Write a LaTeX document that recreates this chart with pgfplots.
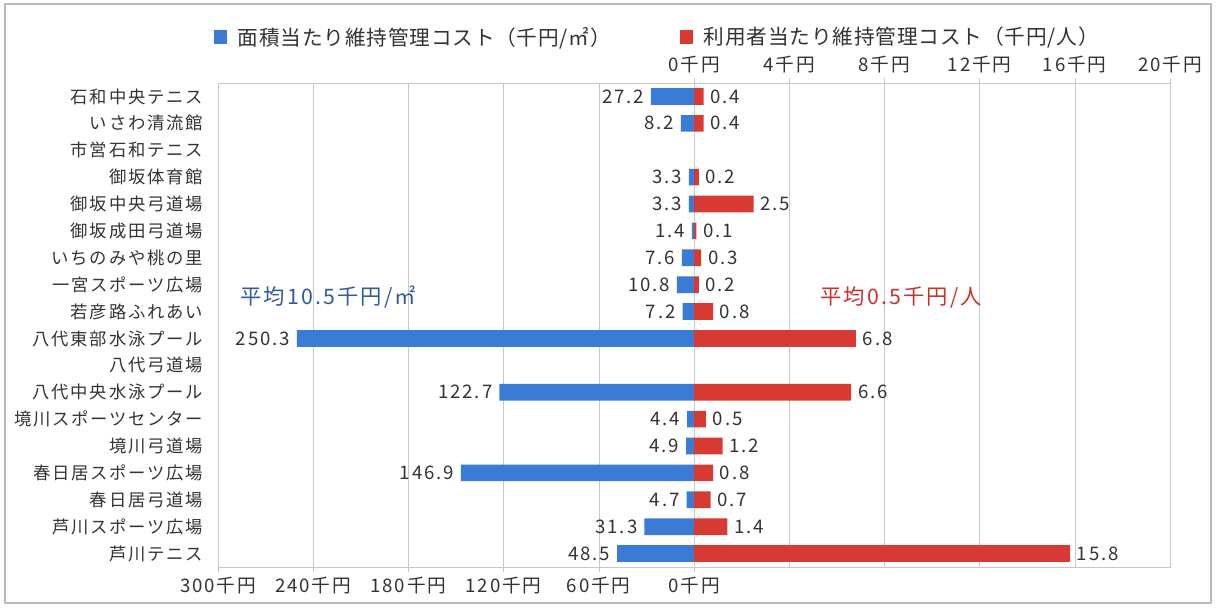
\documentclass[border=0pt]{standalone}
\usepackage{pgfplots}
\pgfplotsset{compat=1.18}
\usepackage{fontspec}
\setmainfont[LetterSpace=10]{Noto Sans CJK JP}
\newfontfamily\numfont[LetterSpace=10]{Noto Sans CJK JP}
\newfontfamily\legfont[LetterSpace=4]{Noto Sans CJK JP}
\definecolor{cblue}{HTML}{3A7BD5}
\definecolor{cred}{HTML}{D63A33}
\definecolor{txt}{HTML}{333333}
\definecolor{gridc}{HTML}{C8C8C8}
\definecolor{annblue}{HTML}{2E5B9A}
\definecolor{annred}{HTML}{C8332E}

\pgfplotsset{
  base/.style={
    scale only axis, width=714pt, height=363pt,
    at={(163.5pt,30pt)}, anchor=south west,
    ymin=-0.5, ymax=17.5, y dir=reverse,
    xbar, bar width=12.5pt,
    axis line style={gridc},
    xmajorgrids, grid style={gridc},
    tick style={gridc}, tick align=outside, major tick length=4pt,
    xticklabel style={font=\numfont\fontsize{14}{16}\selectfont, text=txt},
    /pgf/number format/assume math mode=true,
    clip=false,
  },
}

\begin{document}
\begin{tikzpicture}[x=0.75pt,y=0.75pt]
\path[use as bounding box] (0,0) rectangle (1216,607);
\draw[gray!55, line width=1.2pt] (5,4) rectangle (1211,603);

% blue axis (area cost)
\begin{axis}[base,
  x dir=reverse, xmin=-300, xmax=300,
  xtick={0,60,120,180,240,300},
  xticklabels={0千円,60千円,120千円,180千円,240千円,300千円},
  xtick pos=lower, xticklabel pos=lower,
  ytick={0,...,17},
  yticklabels={石和中央テニス,いさわ清流館,市営石和テニス,御坂体育館,御坂中央弓道場,御坂成田弓道場,いちのみや桃の里,一宮スポーツ広場,若彦路ふれあい,八代東部水泳プール,八代弓道場,八代中央水泳プール,境川スポーツセンター,境川弓道場,春日居スポーツ広場,春日居弓道場,芦川スポーツ広場,芦川テニス},
  ytick style={draw=none},
  yticklabel style={font=\fontsize{13}{15}\selectfont, text=txt, xshift=-4pt},
]
\addplot[fill=cblue, draw=none,
  nodes near coords={\pgfmathprintnumber[fixed,fixed zerofill,precision=1]{\pgfplotspointmeta}},
  every node near coord/.append style={anchor=east, font=\numfont\fontsize{14}{16}\selectfont, text=txt, inner xsep=5pt},
] coordinates {
  (27.2,0) (8.2,1) (3.3,3) (3.3,4) (1.4,5) (7.6,6) (10.8,7) (7.2,8)
  (250.3,9) (122.7,11) (4.4,12) (4.9,13) (146.9,14) (4.7,15) (31.3,16) (48.5,17)
};
\node[text=annblue, font=\numfont\fontsize{16}{18}\selectfont] at (axis cs:230.5,7.47) {平均10.5千円/㎡};
\end{axis}

% red axis (user cost)
\begin{axis}[base,
  xmin=-20, xmax=20,
  xtick={0,4,8,12,16,20},
  xticklabels={0千円,4千円,8千円,12千円,16千円,20千円},
  xtick pos=upper, xticklabel pos=upper,
  ytick=\empty,
  legend columns=2,
  legend style={at={(0.462,1)}, anchor=center, yshift=34.5pt, draw=none, fill=none,
    font=\legfont\fontsize{15.5}{18}\selectfont, text=txt,
    /tikz/every odd column/.append style={column sep=6pt},
    /tikz/every even column/.append style={column sep=50pt}},
  legend image code/.code={\fill[#1] (0pt,-5pt) rectangle (9.5pt,5pt);},
]
\addlegendimage{fill=cblue, draw=none}
\addlegendentry{面積当たり維持管理コスト（千円/㎡）}
\addplot[fill=cred, draw=none,
  nodes near coords={\pgfmathprintnumber[fixed,fixed zerofill,precision=1]{\pgfplotspointmeta}},
  every node near coord/.append style={anchor=west, font=\numfont\fontsize{14}{16}\selectfont, text=txt, inner xsep=5pt},
] coordinates {
  (0.4,0) (0.4,1) (0.2,3) (2.5,4) (0.1,5) (0.3,6) (0.2,7) (0.8,8)
  (6.8,9) (6.6,11) (0.5,12) (1.2,13) (0.8,14) (0.7,15) (1.4,16) (15.8,17)
};
\addlegendentry{利用者当たり維持管理コスト（千円/人）}
\node[text=annred, font=\numfont\fontsize{16}{18}\selectfont] at (axis cs:8.7,7.47) {平均0.5千円/人};
\end{axis}
\end{tikzpicture}
\end{document}
